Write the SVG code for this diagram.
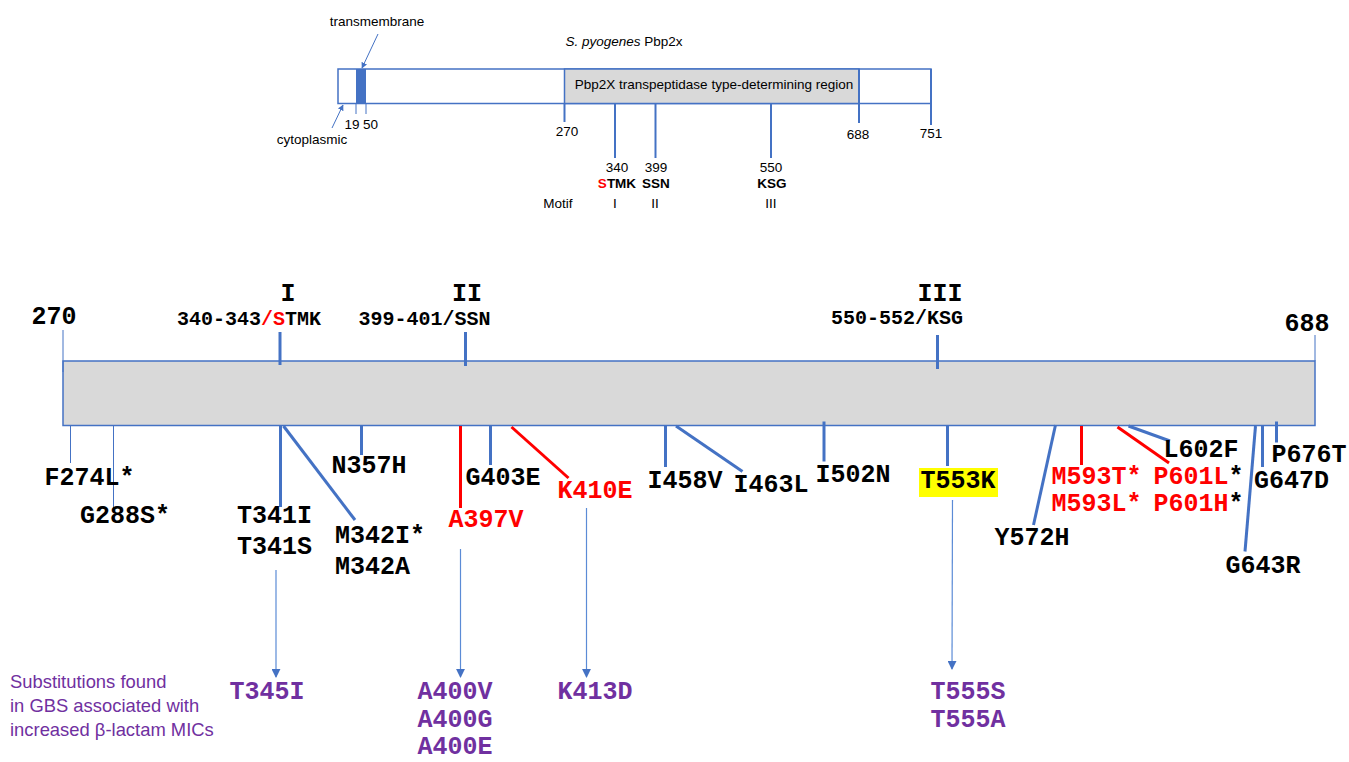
<svg xmlns="http://www.w3.org/2000/svg" width="1349" height="762" viewBox="0 0 1349 762">
<style>
.sm{font-family:"Liberation Sans",Arial,sans-serif;font-size:13.5px;fill:#000}
.smb{font-family:"Liberation Sans",Arial,sans-serif;font-size:13.5px;font-weight:bold;fill:#000}
.mono{font-family:"Liberation Mono","Courier New",monospace;font-weight:bold;font-size:25px;fill:#000}
.mono20{font-family:"Liberation Mono","Courier New",monospace;font-weight:bold;font-size:20px;fill:#000}
.red{fill:#ff0000}
.pur{fill:#7030a0}
.note{font-family:"Liberation Sans",Arial,sans-serif;font-size:18.4px;fill:#7030a0}
.bl{stroke:#4472c4;stroke-width:3;fill:none}
.rl{stroke:#ff0000;stroke-width:3;fill:none}
.thin{stroke:#4472c4;stroke-width:1;fill:none}
.tk{stroke:#4472c4;stroke-width:2;fill:none}
.arr{stroke:#5b8bd6;stroke-width:1.2;fill:none;marker-end:url(#ah)}
.m{text-anchor:middle}
</style>
<defs>
<marker id="ah" viewBox="0 0 10 10" refX="9" refY="5" markerWidth="9" markerHeight="9" markerUnits="userSpaceOnUse" orient="auto">
<path d="M0,0 L10,5 L0,10 z" fill="#4472c4"/>
</marker>
<marker id="ahs" viewBox="0 0 10 10" refX="9" refY="5" markerWidth="6" markerHeight="6" markerUnits="userSpaceOnUse" orient="auto">
<path d="M0,0 L10,5 L0,10 z" fill="#4472c4"/>
</marker>
</defs>

<g id="overview">
<text class="sm m" x="624" y="46" font-size="14"><tspan font-style="italic">S. pyogenes</tspan> Pbp2x</text>
<rect x="338" y="69" width="593" height="34.5" fill="#ffffff" stroke="#4472c4" stroke-width="1.5"/>
<rect x="564.5" y="69" width="294.5" height="34.5" fill="#d9d9d9" stroke="#4472c4" stroke-width="1.5"/>
<rect x="356" y="69" width="10" height="34.5" fill="#4472c4"/>
<text class="sm m" x="714" y="89">Pbp2X transpeptidase type-determining region</text>
<line class="thin" x1="356" y1="103" x2="356" y2="114"/>
<line class="thin" x1="366" y1="103" x2="366" y2="114"/>
<text class="sm" x="359.5" y="129" font-size="12.5" text-anchor="end">19</text>
<text class="sm" x="363" y="129" font-size="12.5">50</text>
<line class="tk" x1="564.5" y1="103" x2="564.5" y2="122"/>
<text class="sm m" x="567" y="136">270</text>
<line class="tk" x1="615" y1="103" x2="615" y2="158"/>
<line class="tk" x1="655.5" y1="103" x2="655.5" y2="158"/>
<line class="tk" x1="771" y1="103" x2="771" y2="158"/>
<line class="tk" x1="859" y1="69" x2="859" y2="123"/>
<line class="tk" x1="931" y1="69" x2="931" y2="125"/>
<text class="sm m" x="858" y="139">688</text>
<text class="sm m" x="931" y="138">751</text>
<text class="sm m" x="617" y="172">340</text>
<text class="sm m" x="656" y="172">399</text>
<text class="sm m" x="771" y="172">550</text>
<text class="smb m" x="617" y="188"><tspan class="red">S</tspan>TMK</text>
<text class="smb m" x="656" y="188">SSN</text>
<text class="smb m" x="772" y="188">KSG</text>
<text class="sm m" x="558" y="208">Motif</text>
<text class="sm m" x="615" y="208">I</text>
<text class="sm m" x="655" y="208">II</text>
<text class="sm m" x="771" y="208">III</text>
<text class="sm m" x="377" y="26" font-size="14">transmembrane</text>
<line x1="378" y1="34" x2="362" y2="68" stroke="#4472c4" stroke-width="1" marker-end="url(#ahs)"/>
<text class="sm m" x="312" y="144">cytoplasmic</text>
<line x1="332" y1="128" x2="343" y2="105" stroke="#4472c4" stroke-width="1" marker-end="url(#ahs)"/>
</g>

<g id="region">
<rect x="63" y="361" width="1252" height="64.5" fill="#d9d9d9" stroke="#4472c4" stroke-width="1.5"/>
<text class="mono m" x="54" y="324">270</text>
<text class="mono m" x="1307" y="331">688</text>
<line class="thin" x1="63" y1="330" x2="63" y2="372"/>
<line class="thin" x1="1315" y1="335" x2="1315" y2="361"/>
</g>

<g id="motifs">
<text class="mono m" x="288" y="301" font-size="21">I</text>
<text class="mono20 m" x="249" y="325">340-343<tspan class="red">/S</tspan>TMK</text>
<text class="mono m" x="467" y="301" font-size="21">II</text>
<text class="mono20 m" x="424.5" y="325">399-401/SSN</text>
<text class="mono m" x="940" y="301" font-size="21">III</text>
<text class="mono20 m" x="897" y="324">550-552/KSG</text>
</g>

<g id="connectors">
<line class="bl" x1="280" y1="332" x2="280" y2="365"/>
<line class="bl" x1="465.5" y1="332" x2="465.5" y2="366"/>
<line class="bl" x1="937.5" y1="335" x2="937.5" y2="369"/>
<line class="thin" x1="70.5" y1="426" x2="70.5" y2="463"/>
<line class="thin" x1="113.5" y1="426" x2="113.5" y2="508"/>
<line class="bl" x1="280.5" y1="426" x2="280.5" y2="507"/>
<line class="bl" x1="283.5" y1="426" x2="355" y2="520"/>
<line class="bl" x1="361.5" y1="426" x2="361.5" y2="455"/>
<line class="rl" x1="460.5" y1="426" x2="460.5" y2="508"/>
<line class="bl" x1="490.5" y1="426" x2="490.5" y2="465"/>
<line class="rl" x1="511.5" y1="427" x2="568.5" y2="478"/>
<line class="bl" x1="665.5" y1="426" x2="665.5" y2="467"/>
<line class="bl" x1="676" y1="426" x2="742.5" y2="471.5"/>
<line class="bl" x1="824" y1="421.5" x2="824" y2="461.5"/>
<line class="bl" x1="947.5" y1="426" x2="947.5" y2="466"/>
<line class="bl" x1="1055.5" y1="425" x2="1033.5" y2="525"/>
<line class="rl" x1="1081.5" y1="426" x2="1081.5" y2="465"/>
<line class="rl" x1="1117.5" y1="427" x2="1169" y2="463"/>
<line class="bl" x1="1128.5" y1="426" x2="1170" y2="441"/>
<line class="bl" x1="1255.5" y1="426" x2="1245" y2="551.5"/>
<line class="bl" x1="1262.5" y1="426" x2="1262.5" y2="467"/>
<line class="bl" x1="1276.5" y1="421.5" x2="1276.5" y2="442.5"/>
<line class="arr" x1="276" y1="570" x2="276" y2="677"/>
<line class="arr" x1="460.5" y1="549" x2="460.5" y2="677"/>
<line class="arr" x1="586.5" y1="508" x2="586.5" y2="677"/>
<line class="arr" x1="952.5" y1="500" x2="952" y2="669"/>
</g>

<g id="mutations">
<text class="mono m" x="89.5" y="485">F274L*</text>
<text class="mono m" x="125" y="523">G288S*</text>
<text class="mono m" x="274.5" y="523">T341I</text>
<text class="mono m" x="274.5" y="554">T341S</text>
<text class="mono" x="335" y="543">M342I*</text>
<text class="mono" x="335" y="574">M342A</text>
<text class="mono m" x="369" y="473">N357H</text>
<text class="mono m red" x="486" y="527">A397V</text>
<text class="mono m" x="503" y="485">G403E</text>
<text class="mono m red" x="595" y="498">K410E</text>
<text class="mono m" x="685" y="488">I458V</text>
<text class="mono m" x="771" y="492">I463L</text>
<text class="mono m" x="853" y="482">I502N</text>
<rect x="919" y="468" width="79" height="29" fill="#ffff00"/>
<text class="mono m" x="958" y="488">T553K</text>
<text class="mono m" x="1032" y="545">Y572H</text>
<text class="mono red" x="1051.5" y="484">M593T*</text>
<text class="mono red" x="1051.5" y="511">M593L*</text>
<text class="mono" x="1153.5" y="484"><tspan class="red">P601L</tspan>*</text>
<text class="mono" x="1153.5" y="511"><tspan class="red">P601H</tspan>*</text>
<text class="mono m" x="1201" y="457">L602F</text>
<text class="mono m" x="1263" y="573">G643R</text>
<text class="mono m" x="1291.5" y="488">G647D</text>
<text class="mono m" x="1309" y="462">P676T</text>
</g>

<g id="gbs">
<text class="note" x="10" y="688">Substitutions found</text>
<text class="note" x="10" y="712">in GBS associated with</text>
<text class="note" x="10" y="736">increased β-lactam MICs</text>
<text class="mono m pur" x="267" y="699">T345I</text>
<text class="mono m pur" x="455" y="699">A400V</text>
<text class="mono m pur" x="455" y="727">A400G</text>
<text class="mono m pur" x="455" y="754">A400E</text>
<text class="mono m pur" x="595" y="699">K413D</text>
<text class="mono m pur" x="968" y="699">T555S</text>
<text class="mono m pur" x="968" y="727">T555A</text>
</g>
</svg>
